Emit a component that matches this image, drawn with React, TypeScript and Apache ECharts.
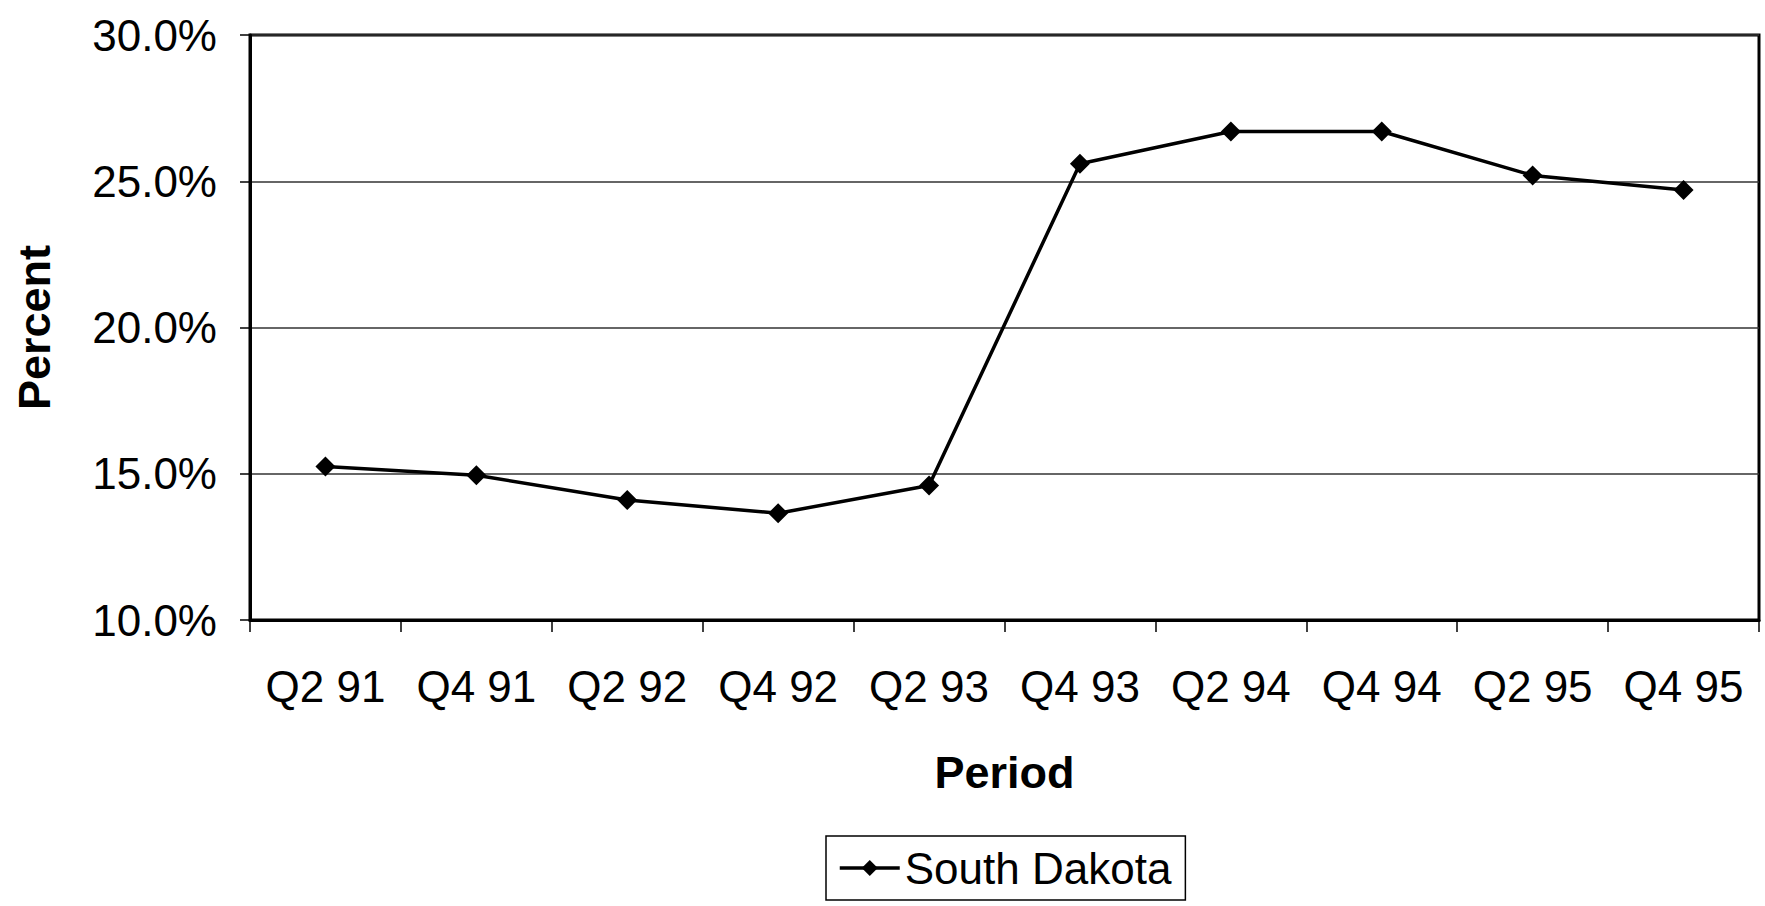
import React, { useEffect, useRef } from "react";
import * as echarts from "echarts";

const categories = ["Q2 91", "Q4 91", "Q2 92", "Q4 92", "Q2 93", "Q4 93", "Q2 94", "Q4 94", "Q2 95", "Q4 95"];
const southDakota = [15.25, 14.95, 14.1, 13.65, 14.6, 25.6, 26.7, 26.7, 25.2, 24.7];
const seriesName = "South Dakota";
const xTitle = "Period";
const yTitle = "Percent";

const FONT = "'Liberation Sans', Arial, Helvetica, sans-serif";

export default function App() {
  const ref = useRef<HTMLDivElement>(null);
  useEffect(() => {
    if (!ref.current) return;
    const chart = echarts.init(ref.current, undefined, { renderer: "svg" });
    chart.setOption({
      animation: false,
      backgroundColor: "#fff",
      textStyle: { fontFamily: FONT, color: "#000" },
      grid: {
        left: 250,
        right: 6,
        top: 35,
        bottom: 286,
        show: true,
        borderColor: "#000",
        borderWidth: 3,
      },
      legend: {
        data: [seriesName],
        left: 826,
        top: 836,
        orient: "horizontal",
        borderColor: "#000",
        borderWidth: 1.5,
        padding: [10, 14, 10, 12],
        itemWidth: 60,
        itemHeight: 20,
        lineStyle: { width: 3.5, color: "#000" },
        textStyle: { fontSize: 44, color: "#000", fontFamily: FONT },
      },
      xAxis: {
        type: "category",
        data: categories,
        boundaryGap: true,
        name: xTitle,
        nameLocation: "middle",
        nameGap: 130,
        nameTextStyle: { fontSize: 45, fontWeight: "bold", color: "#000", fontFamily: FONT },
        axisLine: { show: true, lineStyle: { color: "#000", width: 3 } },
        axisTick: { show: true, interval: 0, length: 12, lineStyle: { color: "#000", width: 1.5 } },
        axisLabel: { interval: 0, fontSize: 44, color: "#000", margin: 44, fontFamily: FONT },
        splitLine: { show: false },
      },
      yAxis: {
        type: "value",
        min: 10,
        max: 30,
        interval: 5,
        name: yTitle,
        nameLocation: "middle",
        nameGap: 193,
        nameTextStyle: { fontSize: 45, fontWeight: "bold", color: "#000", fontFamily: FONT },
        axisLine: { show: true, lineStyle: { color: "#000", width: 3 } },
        axisTick: { show: true, length: 10, lineStyle: { color: "#000", width: 1.5 } },
        axisLabel: {
          fontSize: 44,
          color: "#000",
          margin: 33,
          fontFamily: FONT,
          formatter: (v: number) => v.toFixed(1) + "%",
        },
        splitLine: { show: true, lineStyle: { color: "#333", width: 1.5 } },
      },
      series: [
        {
          name: seriesName,
          type: "line",
          data: southDakota,
          symbol: "diamond",
          symbolSize: 20,
          itemStyle: { color: "#000" },
          lineStyle: { color: "#000", width: 3.5 },
        },
      ],
    });
    return () => chart.dispose();
  }, []);
  return (
    <div
      ref={ref}
      style={{ position: "fixed", left: 0, top: 0, width: 1765, height: 906, background: "#fff" }}
    />
  );
}
